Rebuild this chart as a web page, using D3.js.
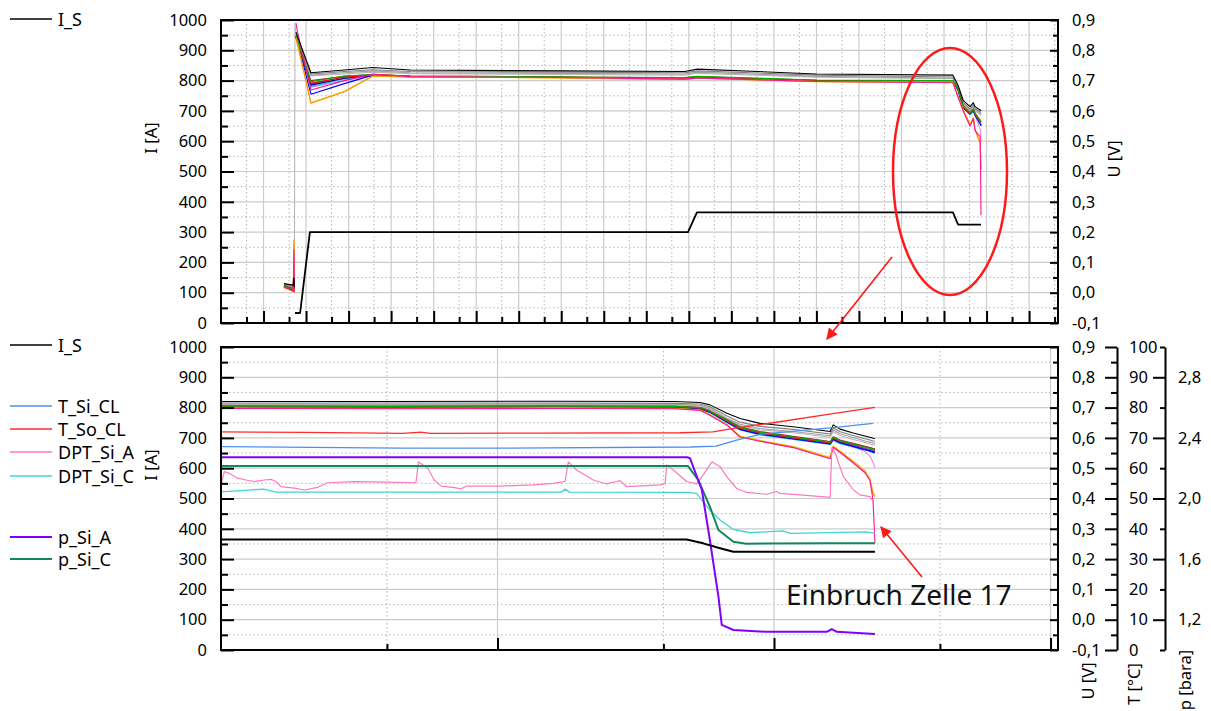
<!DOCTYPE html>
<html>
<head>
<meta charset="utf-8">
<script src="https://cdn.jsdelivr.net/npm/d3@7"></script>
<style>
  body { margin: 0; background: #fff; }
  svg text { font-family: "Noto Sans", "Open Sans", sans-serif; }
</style>
</head>
<body>
<svg id="chart" width="1211" height="711"></svg>
<script>
// ---------- Overview panel (time in h) ----------
const topTime = [1.48, 1.70, 1.715, 1.725, 1.74, 1.763, 1.80, 2.115, 2.90, 3.57, 4.45, 8.0, 10.9, 11.2, 14.0, 17.21, 17.33, 17.45, 17.61, 17.69, 17.73, 17.85, 17.87];
// cell voltages [V]; null = no data
const uTopBlack  = [0.030,0.025,0.050,0.018,null,0.860,0.845,0.726,0.735,0.743,0.735,0.732,0.730,0.738,0.722,0.718,0.685,0.635,0.614,0.627,0.614,0.603,0.600];
const uTopGray1  = [0.028,0.022,0.060,0.015,null,0.855,0.840,0.722,0.730,0.736,0.730,0.728,0.726,0.732,0.718,0.712,0.678,0.628,0.607,0.620,0.608,0.597,0.594];
const uTopGray2  = [0.026,0.020,0.070,0.012,null,0.852,0.836,0.718,0.726,0.732,0.726,0.724,0.722,0.728,0.714,0.708,0.673,0.624,0.602,0.616,0.604,0.592,0.588];
const uTopGray3  = [0.025,0.018,0.065,0.010,0.890,0.850,0.834,0.715,0.722,0.728,0.723,0.720,0.718,0.724,0.711,0.706,0.670,0.620,0.599,0.612,0.600,0.588,0.584];
const uTopGreen  = [0.020,0.012,0.080,0.008,null,0.848,0.830,0.696,0.715,0.720,0.715,0.712,0.710,0.714,0.702,0.700,0.672,0.616,0.594,0.606,0.592,0.570,0.564];
const uTopRed    = [0.018,0.005,0.098,0.000,null,0.846,0.828,0.690,0.712,0.718,0.714,0.711,0.708,0.712,0.700,0.698,0.672,0.614,0.592,0.604,0.590,0.568,0.564];
const uTopBlue   = [0.022,0.010,0.090,0.005,null,0.844,0.826,0.655,0.690,0.718,0.714,0.711,0.707,0.711,0.699,0.697,0.670,0.612,0.590,0.602,0.588,0.560,0.551];
const uTopNavy   = [0.021,0.009,0.075,0.004,null,0.843,0.825,0.685,0.708,0.717,0.713,0.710,0.706,0.710,0.698,0.696,0.670,0.612,0.590,0.601,0.586,0.558,0.554];
const uTopCyan   = [0.019,0.007,0.085,0.003,null,0.842,0.824,0.680,0.705,0.716,0.713,0.710,0.706,0.710,0.698,0.695,0.669,0.610,0.588,0.600,0.585,0.556,0.550];
const uTopPurple = [0.023,0.013,0.110,0.006,null,0.845,0.827,0.692,0.710,0.718,0.714,0.711,0.707,0.711,0.699,0.697,0.671,0.613,0.591,0.603,0.589,0.562,0.557];
const uTopDkRed  = [0.024,0.014,0.100,0.007,null,0.847,0.829,0.700,0.714,0.720,0.715,0.712,0.709,0.713,0.701,0.699,0.673,0.616,0.594,0.606,0.593,0.568,0.563];
const uTopTeal   = [0.020,0.011,0.095,0.005,null,0.844,0.826,0.688,0.708,0.717,0.713,0.710,0.706,0.710,0.698,0.696,0.670,0.612,0.590,0.602,0.588,0.560,0.556];
const uTopPlum   = [0.021,0.010,0.105,0.004,null,0.846,0.828,0.678,0.700,0.716,0.713,0.710,0.706,0.710,0.698,0.696,0.669,0.610,0.588,0.600,0.585,0.540,0.500];
const uTopOrange = [0.017,0.004,0.174,0.000,null,0.840,0.820,0.625,0.663,0.715,0.712,0.709,0.704,0.708,0.696,0.694,0.647,0.603,0.553,0.576,0.537,0.493,0.405];
const uTopYellow = [0.018,0.005,0.160,0.001,null,0.841,0.821,0.627,0.665,0.714,0.712,0.709,0.704,0.708,0.697,0.695,0.648,0.605,0.555,0.578,0.540,0.497,0.410];
const uTopZ17    = [0.019,0.006,0.141,0.002,null,0.890,0.860,0.669,0.700,0.722,0.713,0.710,0.705,0.709,0.697,0.693,0.646,0.600,0.550,0.574,0.535,0.515,0.256];
// stack current [A]
const isTopTime = [1.74, 1.86, 2.09, 10.98, 11.19, 17.21, 17.33, 17.87];
const isTopA    = [33, 33, 300, 300, 365, 365, 325, 325];

// ---------- Detail panel (time in h) ----------
const botTime = [0, 0.6, 1.2, 1.642, 1.732, 1.768, 1.830, 1.877, 1.949, 2.069, 2.203, 2.214, 2.239, 2.286, 2.329, 2.347, 2.358, 2.365];
const uBotBlack  = [0.720,0.720,0.721,0.720,0.717,0.709,0.681,0.664,0.648,0.637,0.621,0.643,0.629,0.616,0.606,0.602,0.599,0.598];
const uBotGray1  = [0.715,0.715,0.715,0.714,0.712,0.703,0.672,0.652,0.638,0.628,0.613,0.633,0.620,0.608,0.597,0.593,0.590,0.589];
const uBotGray2  = [0.712,0.711,0.712,0.711,0.708,0.698,0.665,0.645,0.631,0.621,0.607,0.626,0.614,0.601,0.590,0.586,0.583,0.582];
const uBotGray3  = [0.710,0.709,0.710,0.709,0.706,0.695,0.662,0.641,0.627,0.617,0.602,0.620,0.608,0.595,0.585,0.580,0.577,0.576];
const uBotGreen  = [0.705,0.704,0.705,0.704,0.700,0.689,0.658,0.635,0.619,0.603,0.586,0.602,0.591,0.580,0.570,0.566,0.563,0.562];
const uBotRed    = [0.703,0.702,0.703,0.702,0.699,0.688,0.656,0.633,0.617,0.601,0.584,0.600,0.589,0.578,0.570,0.567,0.565,0.564];
const uBotBlue   = [0.702,0.701,0.702,0.701,0.697,0.686,0.653,0.629,0.613,0.597,0.580,0.596,0.584,0.572,0.561,0.557,0.553,0.551];
const uBotNavy   = [0.701,0.700,0.701,0.700,0.696,0.685,0.652,0.628,0.612,0.597,0.581,0.595,0.584,0.573,0.562,0.558,0.555,0.554];
const uBotCyan   = [0.700,0.699,0.700,0.699,0.695,0.683,0.650,0.626,0.610,0.595,0.578,0.592,0.581,0.570,0.560,0.555,0.552,0.550];
const uBotPurple = [0.704,0.703,0.704,0.703,0.699,0.687,0.655,0.631,0.616,0.600,0.583,0.599,0.588,0.576,0.566,0.562,0.559,0.557];
const uBotDkRed  = [0.706,0.705,0.706,0.705,0.701,0.690,0.660,0.637,0.621,0.605,0.588,0.604,0.593,0.582,0.572,0.568,0.565,0.563];
const uBotTeal   = [0.703,0.702,0.703,0.702,0.698,0.686,0.654,0.630,0.614,0.599,0.582,0.597,0.586,0.575,0.565,0.561,0.558,0.556];
const uBotPlum   = [0.702,0.701,0.702,0.701,0.697,0.685,0.652,0.628,0.612,0.596,0.579,0.594,0.583,0.570,0.555,0.540,0.520,0.500];
const uBotOrange = [0.698,0.697,0.698,0.697,0.692,0.676,0.643,0.604,0.590,0.570,0.533,0.571,0.555,0.521,0.488,0.461,0.415,0.406];
const uBotYellow = [0.699,0.698,0.699,0.698,0.693,0.677,0.644,0.606,0.592,0.572,0.536,0.573,0.557,0.524,0.492,0.466,0.420,0.410];
const uBotZ17    = [0.697,0.696,0.697,0.696,0.691,0.675,0.642,0.603,0.589,0.568,0.531,0.569,0.552,0.518,0.485,0.460,0.395,0.252];

const isBotTime = [0, 1.684, 1.744, 1.805, 1.853, 2.365];
const isBotA    = [365, 365, 352, 336, 324, 324];

const tSiTime = [0, 0.325, 0.65, 1.0, 1.7, 1.79, 1.865, 1.949, 2.214, 2.358];
const tSiVal  = [67.1, 66.9, 66.6, 66.6, 67.0, 67.3, 69.3, 71.2, 73.4, 74.8];
const tSoTime = [0, 0.307, 0.658, 0.723, 0.756, 1.154, 1.660, 1.779, 1.866, 1.996, 2.213, 2.365];
const tSoVal  = [72.0, 71.8, 71.5, 71.9, 71.5, 71.6, 71.7, 72.0, 73.3, 75.0, 78.0, 80.1];

const dpASiTime = [0,0.012,0.030,0.060,0.090,0.120,0.157,0.181,0.199,0.217,0.265,0.301,0.350,0.386,0.482,0.603,0.705,0.714,0.748,0.771,0.796,0.844,0.868,0.889,1.009,1.129,1.202,1.244,1.256,1.286,1.347,1.395,1.431,1.443,1.467,1.588,1.606,1.612,1.636,1.684,1.720,1.744,1.775,1.805,1.829,1.865,1.901,1.974,2.010,2.022,2.094,2.203,2.209,2.221,2.251,2.287,2.311,2.347,2.359];
const dpASiVal  = [545,589,583,567,561,556,561,563,556,539,534,528,537,552,556,554,552,621,600,561,541,536,532,541,541,545,550,556,621,594,561,548,556,559,539,545,550,611,594,556,548,578,621,605,572,533,520,514,523,517,512,504,668,650,572,528,512,506,489];
const dpCSiTime = [0, 0.155, 0.2, 1.23, 1.245, 1.26, 1.686, 1.72, 1.768, 1.805, 1.853, 1.913, 2.032, 2.06, 2.334, 2.365];
const dpCSiVal  = [522, 531, 521, 521, 531, 521, 520, 517, 462, 429, 398, 387, 393, 385, 390, 385];

const pSiATime = [0, 1.686, 1.696, 1.739, 1.768, 1.799, 1.811, 1.853, 1.972, 2.191, 2.209, 2.227, 2.365];
const pSiAVal  = [2.272, 2.272, 2.266, 2.056, 1.726, 1.352, 1.166, 1.132, 1.120, 1.120, 1.138, 1.120, 1.106];
const pSiCTime = [0, 1.689, 1.726, 1.768, 1.799, 1.853, 1.9, 2.2, 2.365];
const pSiCVal  = [2.214, 2.214, 2.122, 1.946, 1.792, 1.714, 1.702, 1.704, 1.704];

// ---------- Ticks / legend ----------
const iTicks = d3.range(0, 1001, 100);
const uTicks = d3.range(-1, 10).map(v => v / 10);
const tTicks = d3.range(0, 101, 10);
const pTicks = [1.2, 1.6, 2.0, 2.4, 2.8];
const legendTop = ["I_S"];
const legendBot = ["I_S", "T_Si_CL", "T_So_CL", "DPT_Si_A", "DPT_Si_C", "p_Si_A", "p_Si_C"];
const annotation = "Einbruch Zelle 17";

// cell traces: colour, overview values, detail values (drawn in this order)
const cellColors = ["#b8b8b8","#a0a0a0","#808080","#ee82ee","#00c8ff","#008b8b","#000080","#0000ff","#9932cc","#b22222","#ff0000","#00b000","#e8d000","#ff8c00","#ff1493","#000000"];
const cellTop = [uTopGray3,uTopGray2,uTopGray1,uTopPlum,uTopCyan,uTopTeal,uTopNavy,uTopBlue,uTopPurple,uTopDkRed,uTopRed,uTopGreen,uTopYellow,uTopOrange,uTopZ17,uTopBlack];
const cellBot = [uBotGray3,uBotGray2,uBotGray1,uBotPlum,uBotCyan,uBotTeal,uBotNavy,uBotBlue,uBotPurple,uBotDkRed,uBotRed,uBotGreen,uBotYellow,uBotOrange,uBotZ17,uBotBlack];

// ---------- Layout ----------
const svg = d3.select("#chart");
const L = 221, R = 1058;
const P1 = { top: 20, bottom: 323 };
const P2 = { top: 347, bottom: 650 };
const FS = 16.5;

const xTop = d3.scaleLinear().domain([0, 19.68]).range([L, R]);
const xBot = d3.scaleLinear().domain([0, 3.027]).range([L, R]);
const yITop = d3.scaleLinear().domain([0, 1000]).range([P1.bottom, P1.top]);
const yUTop = d3.scaleLinear().domain([-0.1, 0.9]).range([P1.bottom, P1.top]);
const yIBot = d3.scaleLinear().domain([0, 1000]).range([P2.bottom, P2.top]);
const yUBot = d3.scaleLinear().domain([-0.1, 0.9]).range([P2.bottom, P2.top]);
const yTBot = d3.scaleLinear().domain([0, 100]).range([P2.bottom, P2.top]);
const yPBot = d3.scaleLinear().domain([1, 3]).range([P2.bottom, P2.top]);

const fmtComma = v => (v < 0 ? "-" : "") + Math.abs(v).toFixed(1).replace(".", ",");

const defs = svg.append("defs");
[["clipTop", P1], ["clipBot", P2]].forEach(([id, p]) => {
  defs.append("clipPath").attr("id", id).append("rect")
    .attr("x", L).attr("y", p.top).attr("width", R - L).attr("height", p.bottom - p.top);
});
defs.append("marker").attr("id", "arrowRed").attr("viewBox", "0 0 10 10")
  .attr("refX", 9).attr("refY", 5).attr("markerWidth", 8).attr("markerHeight", 7)
  .attr("markerUnits", "strokeWidth").attr("orient", "auto")
  .append("path").attr("d", "M0,0 L10,5 L0,10 Z").attr("fill", "#ff1a1a");

function drawGrid(g, x, y, xMaj, xMin, yMaj, yMin, p) {
  const solid = "#cccccc", dot = "#b4b4b4";
  g.selectAll(null).data(xMin).join("line")
    .attr("x1", d => x(d)).attr("x2", d => x(d)).attr("y1", p.top).attr("y2", p.bottom)
    .attr("stroke", dot).attr("stroke-dasharray", "1.5,2.5");
  g.selectAll(null).data(yMin).join("line")
    .attr("x1", L).attr("x2", R).attr("y1", d => y(d)).attr("y2", d => y(d))
    .attr("stroke", dot).attr("stroke-dasharray", "1.5,2.5");
  g.selectAll(null).data(xMaj).join("line")
    .attr("x1", d => x(d)).attr("x2", d => x(d)).attr("y1", p.top).attr("y2", p.bottom)
    .attr("stroke", solid).attr("stroke-width", 1.2);
  g.selectAll(null).data(yMaj).join("line")
    .attr("x1", L).attr("x2", R).attr("y1", d => y(d)).attr("y2", d => y(d))
    .attr("stroke", solid).attr("stroke-width", 1.2);
}

function styleAxis(sel, keepDomain) {
  sel.attr("font-size", FS).attr("font-family", "'Noto Sans','Open Sans',sans-serif");
  sel.selectAll(".tick line").attr("stroke-width", 2);
  sel.selectAll("text").attr("fill", "#000");
  if (keepDomain) sel.select(".domain").attr("stroke-width", 2);
  else sel.select(".domain").remove();
}

function frameAxes(g, x, yI, yU, p, xMaj, xMin) {
  // left I axis, ticks inward
  g.append("g").attr("transform", `translate(${L},0)`)
    .call(d3.axisLeft(yI).tickValues(iTicks).tickSize(-13).tickPadding(14).tickFormat(d3.format("d")))
    .call(s => styleAxis(s, false));
  g.append("g").attr("transform", `translate(${L},0)`)
    .call(d3.axisLeft(yI).tickValues(d3.range(50, 1000, 100)).tickSize(-7).tickFormat(""))
    .call(s => styleAxis(s, false));
  // right U axis on the frame, ticks inward
  g.append("g").attr("transform", `translate(${R},0)`)
    .call(d3.axisRight(yU).tickValues(uTicks).tickSize(-8).tickPadding(14).tickFormat(fmtComma))
    .call(s => styleAxis(s, false));
  g.append("g").attr("transform", `translate(${R},0)`)
    .call(d3.axisRight(yU).tickValues(uTicks.slice(0, -1).map(v => v + 0.05)).tickSize(-5).tickFormat(""))
    .call(s => styleAxis(s, false));
  // time axis, ticks inward, no labels
  g.append("g").attr("transform", `translate(0,${p.bottom})`)
    .call(d3.axisBottom(x).tickValues(xMaj).tickSize(-12).tickFormat(""))
    .call(s => styleAxis(s, false));
  g.append("g").attr("transform", `translate(0,${p.bottom})`)
    .call(d3.axisBottom(x).tickValues(xMin).tickSize(-6).tickFormat(""))
    .call(s => styleAxis(s, false));
  g.append("rect").attr("x", L).attr("y", p.top).attr("width", R - L).attr("height", p.bottom - p.top)
    .attr("fill", "none").attr("stroke", "#000").attr("stroke-width", 2);
}

function seriesLine(g, times, vals, x, y, color, width, clip) {
  const pts = times.map((t, i) => [t, vals[i]]);
  g.append("path").datum(pts)
    .attr("clip-path", `url(#${clip})`)
    .attr("fill", "none").attr("stroke", color).attr("stroke-width", width)
    .attr("stroke-linejoin", "round")
    .attr("d", d3.line().defined(d => d[1] != null).x(d => x(d[0])).y(d => y(d[1])));
}

function rotLabel(text, x, y) {
  svg.append("text").attr("transform", `translate(${x},${y}) rotate(-90)`)
    .attr("text-anchor", "middle").attr("font-size", FS).attr("fill", "#000").text(text);
}

// ---------- Overview panel ----------
const topXMaj = d3.range(1, 20), topXMin = d3.range(0, 20).map(v => v + 0.6);
const gTop = svg.append("g");
drawGrid(gTop, xTop, yITop, topXMaj, topXMin, d3.range(100, 1000, 100), d3.range(50, 1000, 100), P1);
cellTop.forEach((vals, i) => seriesLine(gTop, topTime, vals, xTop, yUTop, cellColors[i], 1.1, "clipTop"));
seriesLine(gTop, isTopTime, isTopA, xTop, yITop, "#000", 1.8, "clipTop");
frameAxes(gTop, xTop, yITop, yUTop, P1, topXMaj, topXMin);
rotLabel("I [A]", 157, 138);
rotLabel("U [V]", 1120, 159);

// ---------- Detail panel ----------
const botXMaj = [1, 2, 3], botXMin = [0.6, 1.6, 2.6];
const gBot = svg.append("g");
drawGrid(gBot, xBot, yIBot, botXMaj, botXMin, d3.range(100, 1000, 100), d3.range(50, 1000, 100), P2);
cellBot.forEach((vals, i) => seriesLine(gBot, botTime, vals, xBot, yUBot, cellColors[i], 1.1, "clipBot"));
const colTSi = "#4f8ff0", colTSo = "#ff2a2a", colDA = "#ff78be", colDC = "#3cd6d6", colPA = "#8000ff", colPC = "#13875c";
seriesLine(gBot, tSoTime, tSoVal, xBot, yTBot, colTSo, 1.3, "clipBot");
seriesLine(gBot, tSiTime, tSiVal, xBot, yTBot, colTSi, 1.3, "clipBot");
seriesLine(gBot, dpCSiTime, dpCSiVal, xBot, yIBot, colDC, 1.3, "clipBot");
seriesLine(gBot, dpASiTime, dpASiVal, xBot, yIBot, colDA, 1.2, "clipBot");
seriesLine(gBot, pSiCTime, pSiCVal, xBot, yPBot, colPC, 2, "clipBot");
seriesLine(gBot, pSiATime, pSiAVal, xBot, yPBot, colPA, 2, "clipBot");
seriesLine(gBot, isBotTime, isBotA, xBot, yIBot, "#000", 2, "clipBot");
frameAxes(gBot, xBot, yIBot, yUBot, P2, botXMaj, botXMin);

// extra axes: T at 1117, p at 1165 (ticks pointing left, labels right)
const gT = svg.append("g").attr("transform", "translate(1117,0)");
gT.call(d3.axisRight(yTBot).tickValues(tTicks).tickSize(-12).tickSizeOuter(0).tickPadding(12).tickFormat(d3.format("d")))
  .call(s => styleAxis(s, true));
svg.append("g").attr("transform", "translate(1117,0)")
  .call(d3.axisRight(yTBot).tickValues(d3.range(5, 100, 10)).tickSize(-6).tickFormat(""))
  .call(s => styleAxis(s, false));
const gP = svg.append("g").attr("transform", "translate(1165,0)");
gP.call(d3.axisRight(yPBot).tickValues(pTicks).tickSize(-12).tickSizeOuter(0).tickPadding(13).tickFormat(fmtComma))
  .call(s => styleAxis(s, true));
svg.append("g").attr("transform", "translate(1165,0)")
  .call(d3.axisRight(yPBot).tickValues([1.0, 1.4, 1.8, 2.2, 2.6, 3.0]).tickSize(-5).tickFormat(""))
  .call(s => styleAxis(s, false));

rotLabel("I [A]", 157, 465);
rotLabel("U [V]", 1094, 681);
rotLabel("T [°C]", 1140, 684);
rotLabel("p [bara]", 1191, 680);

// ---------- Legends ----------
function legendItem(label, y, color, width) {
  svg.append("line").attr("x1", 10).attr("x2", 52).attr("y1", y).attr("y2", y)
    .attr("stroke", color).attr("stroke-width", width);
  svg.append("text").attr("x", 58).attr("y", y + 6.5).attr("font-size", 18).attr("fill", "#000").text(label);
}
legendItem(legendTop[0], 19, "#000", 1.5);
const legY = [345, 406, 429, 452, 476, 537, 559];
const legC = ["#000", colTSi, colTSo, colDA, colDC, colPA, colPC];
const legW = [1.5, 1.5, 1.5, 1.5, 1.5, 2.2, 2.2];
legendBot.forEach((lab, i) => legendItem(lab, legY[i], legC[i], legW[i]));

// ---------- Annotations ----------
svg.append("ellipse").attr("cx", 950).attr("cy", 171.5).attr("rx", 57).attr("ry", 123.5)
  .attr("fill", "none").attr("stroke", "#ff1a1a").attr("stroke-width", 2.5);
svg.append("line").attr("x1", 892).attr("y1", 257).attr("x2", 827).attr("y2", 339)
  .attr("stroke", "#ff1a1a").attr("stroke-width", 1.6).attr("marker-end", "url(#arrowRed)");
svg.append("line").attr("x1", 922).attr("y1", 577).attr("x2", 881).attr("y2", 527)
  .attr("stroke", "#ff1a1a").attr("stroke-width", 1.6).attr("marker-end", "url(#arrowRed)");
svg.append("text").attr("x", 786).attr("y", 605).attr("font-size", 28).attr("fill", "#111").text(annotation);
</script>
</body>
</html>
